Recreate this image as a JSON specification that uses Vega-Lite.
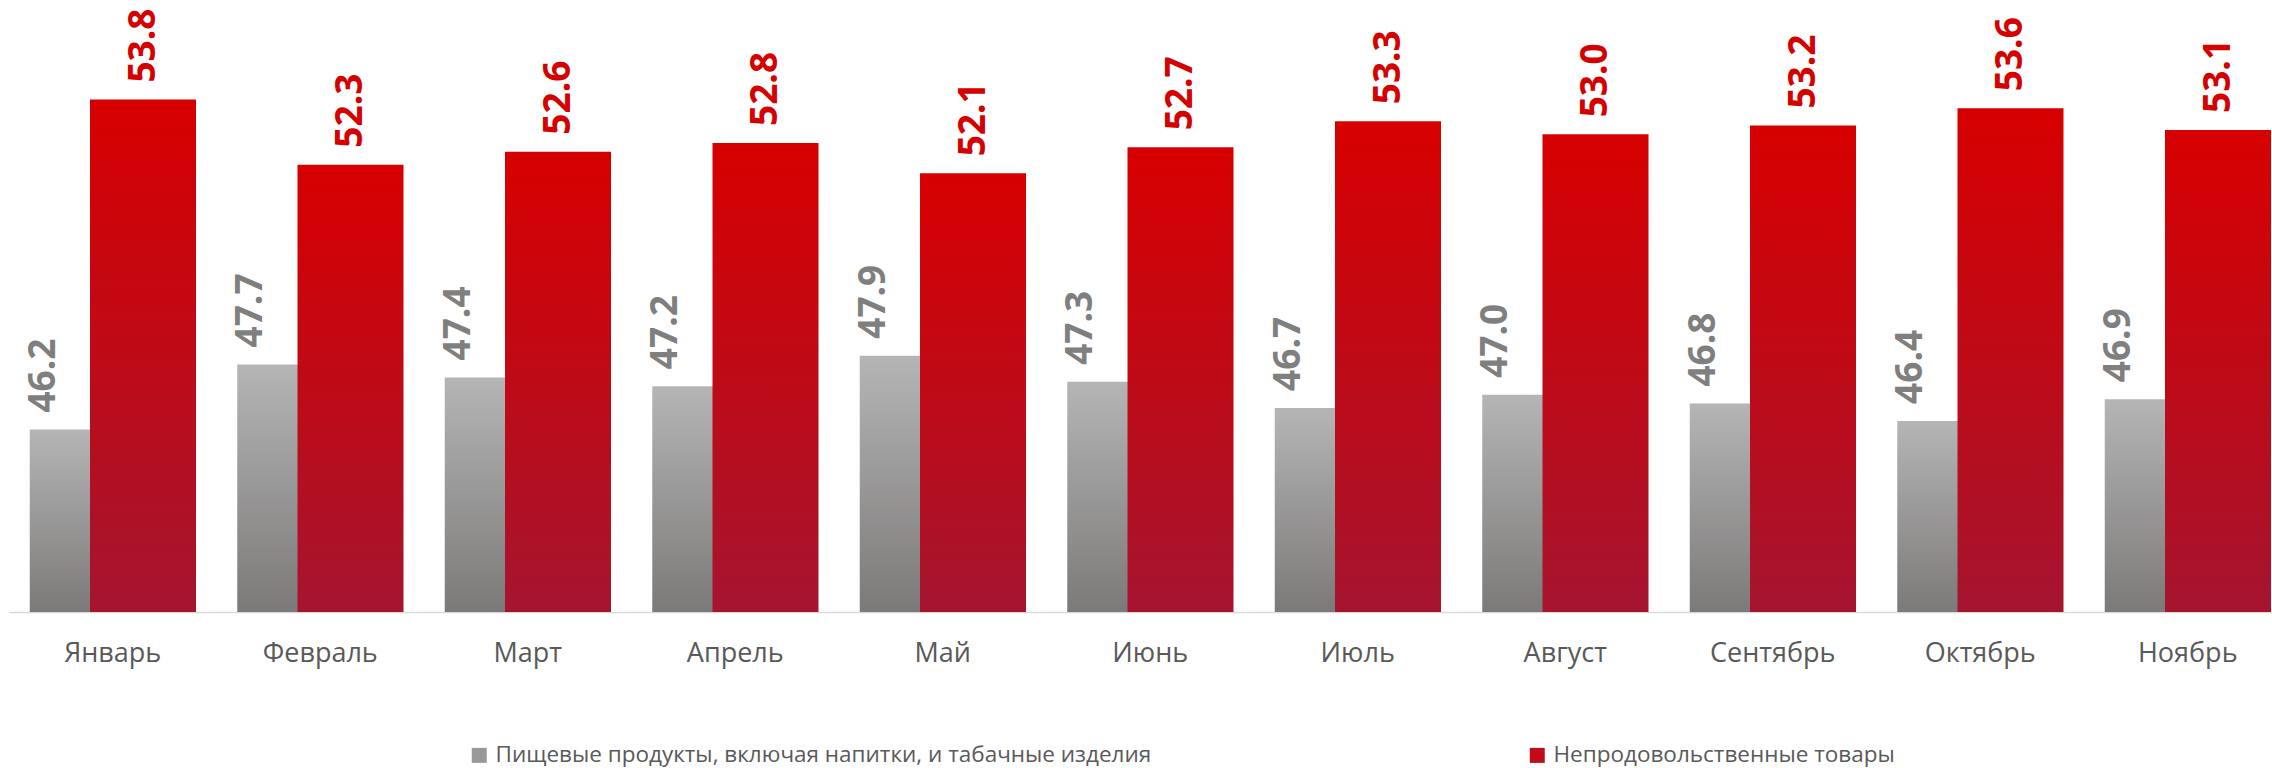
{
  "$schema": "https://vega.github.io/schema/vega-lite/v6.json",
  "width": 2263,
  "height": 608,
  "autosize": {"type": "none"},
  "padding": {"left": 9, "top": 4, "right": 0, "bottom": 156},
  "background": "white",
  "config": {"view": {"stroke": null}},
  "data": {
    "values": [
      {"month": "Январь", "series": "Пищевые продукты, включая напитки, и табачные изделия", "value": 46.2},
      {"month": "Февраль", "series": "Пищевые продукты, включая напитки, и табачные изделия", "value": 47.7},
      {"month": "Март", "series": "Пищевые продукты, включая напитки, и табачные изделия", "value": 47.4},
      {"month": "Апрель", "series": "Пищевые продукты, включая напитки, и табачные изделия", "value": 47.2},
      {"month": "Май", "series": "Пищевые продукты, включая напитки, и табачные изделия", "value": 47.9},
      {"month": "Июнь", "series": "Пищевые продукты, включая напитки, и табачные изделия", "value": 47.3},
      {"month": "Июль", "series": "Пищевые продукты, включая напитки, и табачные изделия", "value": 46.7},
      {"month": "Август", "series": "Пищевые продукты, включая напитки, и табачные изделия", "value": 47.0},
      {"month": "Сентябрь", "series": "Пищевые продукты, включая напитки, и табачные изделия", "value": 46.8},
      {"month": "Октябрь", "series": "Пищевые продукты, включая напитки, и табачные изделия", "value": 46.4},
      {"month": "Ноябрь", "series": "Пищевые продукты, включая напитки, и табачные изделия", "value": 46.9},
      {"month": "Январь", "series": "Непродовольственные товары", "value": 53.8},
      {"month": "Февраль", "series": "Непродовольственные товары", "value": 52.3},
      {"month": "Март", "series": "Непродовольственные товары", "value": 52.6},
      {"month": "Апрель", "series": "Непродовольственные товары", "value": 52.8},
      {"month": "Май", "series": "Непродовольственные товары", "value": 52.1},
      {"month": "Июнь", "series": "Непродовольственные товары", "value": 52.7},
      {"month": "Июль", "series": "Непродовольственные товары", "value": 53.3},
      {"month": "Август", "series": "Непродовольственные товары", "value": 53.0},
      {"month": "Сентябрь", "series": "Непродовольственные товары", "value": 53.2},
      {"month": "Октябрь", "series": "Непродовольственные товары", "value": 53.6},
      {"month": "Ноябрь", "series": "Непродовольственные товары", "value": 53.1}
    ]
  },
  "encoding": {
    "x": {
      "field": "month",
      "type": "nominal",
      "sort": null,
      "scale": {"range": [0, 2282.5], "paddingInner": 0, "paddingOuter": 0},
      "axis": {
        "title": null,
        "ticks": false,
        "domainColor": "#d9d9d9",
        "domainWidth": 1.5,
        "labelAngle": 0,
        "labelFont": "Open Sans",
        "labelFontSize": 27,
        "labelColor": "#595959",
        "labelPadding": 28
      }
    },
    "y": {
      "field": "value",
      "type": "quantitative",
      "scale": {"domain": [42, 56], "zero": false, "nice": false},
      "axis": null
    }
  },
  "layer": [
    {
      "transform": [{"filter": "datum.series === 'Пищевые продукты, включая напитки, и табачные изделия'"}],
      "mark": {
        "type": "bar",
        "width": 106,
        "xOffset": -30,
        "fill": {"gradient": "linear", "x1": 0, "y1": 0, "x2": 0, "y2": 1,
          "stops": [{"offset": 0, "color": "#b5b5b5"}, {"offset": 1, "color": "#7c7a79"}]}
      },
      "encoding": {
        "y2": {"datum": 42},
        "color": {
          "field": "series",
          "type": "nominal",
          "scale": {
            "domain": ["Пищевые продукты, включая напитки, и табачные изделия", "Непродовольственные товары"],
            "range": ["#9a9998", "#c20a18"]
          },
          "legend": {
            "title": null,
            "orient": "none",
            "legendX": 459,
            "legendY": 740,
            "direction": "horizontal",
            "columns": 2,
            "columnPadding": 374,
            "padding": 0,
            "symbolType": "square",
            "symbolSize": 225,
            "symbolStrokeWidth": 0,
            "labelOffset": 5,
            "labelFont": "Open Sans",
            "labelFontSize": 22.5,
            "labelColor": "#595959",
            "labelLimit": 1000
          }
        }
      }
    },
    {
      "transform": [{"filter": "datum.series === 'Непродовольственные товары'"}],
      "mark": {
        "type": "bar",
        "width": 106,
        "xOffset": 30.25,
        "fill": {"gradient": "linear", "x1": 0, "y1": 0, "x2": 0, "y2": 1,
          "stops": [{"offset": 0, "color": "#d70000"}, {"offset": 1, "color": "#a5152f"}]}
      },
      "encoding": {
        "y2": {"datum": 42},
        "color": {"field": "series", "type": "nominal"}
      }
    },
    {
      "transform": [{"filter": "datum.series === 'Пищевые продукты, включая напитки, и табачные изделия'"}],
      "mark": {
        "type": "text",
        "angle": 270,
        "align": "left",
        "baseline": "middle",
        "dx": 17,
        "xOffset": -69,
        "font": "Open Sans",
        "fontWeight": "bold",
        "fontSize": 37,
        "color": "#7f7f7f"
      },
      "encoding": {
        "text": {"field": "value", "type": "quantitative", "format": ".1f"}
      }
    },
    {
      "transform": [{"filter": "datum.series === 'Непродовольственные товары'"}],
      "mark": {
        "type": "text",
        "angle": 270,
        "align": "left",
        "baseline": "middle",
        "dx": 17,
        "xOffset": 30.75,
        "font": "Open Sans",
        "fontWeight": "bold",
        "fontSize": 37,
        "color": "#d50000"
      },
      "encoding": {
        "text": {"field": "value", "type": "quantitative", "format": ".1f"}
      }
    }
  ]
}
